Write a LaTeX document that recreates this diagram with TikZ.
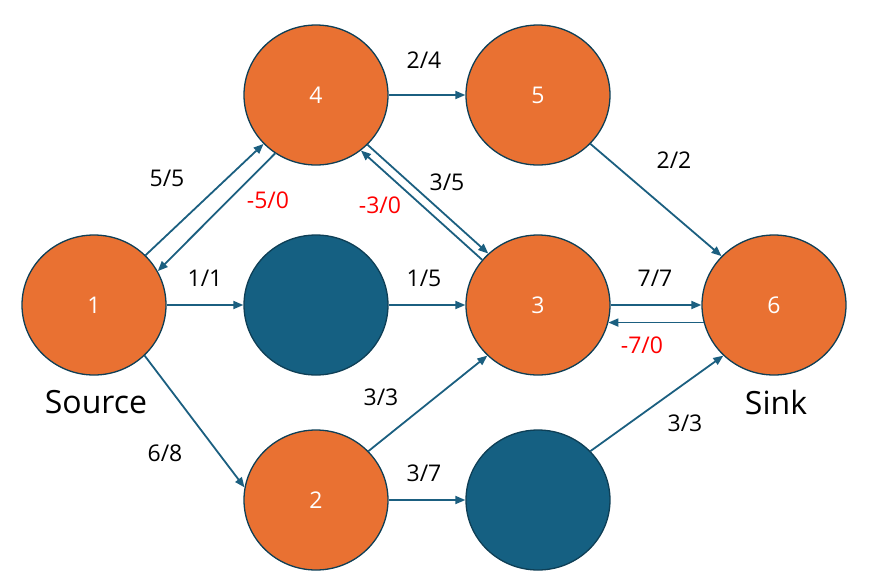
\documentclass[tikz,border=0pt]{standalone}
\usepackage{fontspec}
\setmainfont{Open Sans}
\usetikzlibrary{positioning,arrows.meta,shapes.geometric}
\definecolor{vtxcolor}{HTML}{E97132}
\definecolor{midcolor}{HTML}{156082}
\definecolor{rimcolor}{HTML}{0E3F56}
\definecolor{edgecolor}{HTML}{1B5F80}
\definecolor{backcolor}{HTML}{FF0000}

\begin{document}
\begin{tikzpicture}[
  x=1pt, y=-1pt,
  vertex/.style={ellipse, draw=rimcolor, line width=1.3pt, fill=vtxcolor, minimum width=144pt, minimum height=140pt, inner sep=0pt, text=white, font=\fontsize{23}{27}\selectfont},
  hidden/.style={vertex, fill=midcolor},
  flow/.style={draw=edgecolor, line width=1.8pt, -{Triangle[length=10pt,width=8pt]}},
  caplabel/.style={font=\fontsize{23}{27}\selectfont, text=black},
  backlabel/.style={caplabel, text=backcolor},
  role/.style={font=\fontsize{32}{38}\selectfont, text=black},
]
\useasboundingbox (0,0) rectangle (871,582);

% Vertices of the network
\node[vertex] (n1) at (94,305) {1};
\node[vertex] (n4) at (316,95) {4};
\node[vertex] (n5) at (538,95) {5};
\node[hidden] (ma) at (316,305) {};
\node[vertex] (n3) at (538,305) {3};
\node[vertex] (n6) at (774,305) {6};
\node[vertex] (n2) at (316,500) {2};
\node[hidden] (mb) at (538,500) {};

% Source and sink names
\node[role] (src) at (96,402) {Source};
\node[role] (snk) at (776,402) {Sink};

% Forward flow edges
\draw[flow] (n1.44) -- (n4.223);
\draw[flow] (n1.east) -- (ma.west);
\draw[flow] (n1.-45) -- (n2.170);
\draw[flow] (n4.east) -- (n5.west);
\draw[flow] (n4.316) -- (n3.134);
\draw[flow] (ma.east) -- (n3.west);
\draw[flow] (n5.-43) -- (n6.137);
\draw[flow] (n3.east) -- (n6.west);
\draw[flow] (n2.43) -- (n3.-135);
\draw[flow] (n2.east) -- (mb.west);
\draw[flow] (mb.43) -- (n6.-135);

% Residual back edges
\draw[flow] (n4.235) -- (n1.28);
\draw[flow] (n3.141) -- (n4.309);
\draw[flow] (n6.194) -- (n3.346);

% Flow / capacity labels
\node[caplabel] (l14) at (167,178) {5/5};
\node[backlabel] (r41) at (268,200) {-5/0};
\node[caplabel] (l1a) at (205,278) {1/1};
\node[caplabel] (l45) at (424,60) {2/4};
\node[caplabel] (l43) at (447,182) {3/5};
\node[backlabel] (r34) at (380,205) {-3/0};
\node[caplabel] (la3) at (424,278) {1/5};
\node[caplabel] (l56) at (674,160) {2/2};
\node[caplabel] (l36) at (655,278) {7/7};
\node[backlabel] (r63) at (642,345) {-7/0};
\node[caplabel] (l23) at (381,397) {3/3};
\node[caplabel] (l2b) at (424,473) {3/7};
\node[caplabel] (lb6) at (685,423) {3/3};
\node[caplabel] (l12) at (165,453) {6/8};

\end{tikzpicture}
\end{document}
